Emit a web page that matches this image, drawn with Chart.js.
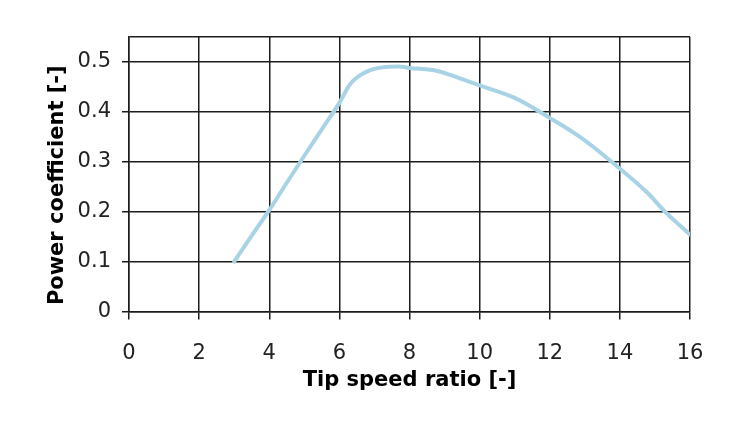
<!DOCTYPE html>
<html><head><meta charset="utf-8">
<script src="https://cdn.jsdelivr.net/npm/chart.js@4"></script>
<style>html,body{margin:0;padding:0;background:#fff}#wrap{width:746px;height:424px}</style>
</head><body><div id="wrap"><canvas id="c" width="746" height="424"></canvas></div>
<script>
const tipSpeedRatio = [3, 3.5, 4, 4.5, 5, 5.5, 6, 6.3, 6.7, 7.3, 7.7, 8, 8.8, 9.4, 10, 11, 12, 12.9, 13.8, 14.8, 15.3, 16];
const powerCoefficient = [0.1, 0.152, 0.203, 0.258, 0.312, 0.365, 0.418, 0.455, 0.478, 0.49, 0.491, 0.488, 0.482, 0.468, 0.453, 0.428, 0.388, 0.348, 0.298, 0.237, 0.199, 0.154];
const xTickValues = [0, 2, 4, 6, 8, 10, 12, 14, 16];
const yTickValues = [0, 0.1, 0.2, 0.3, 0.4, 0.5];
const yTickLabels = ['0', '0.1', '0.2', '0.3', '0.4', '0.5'];
const xTitle = 'Tip speed ratio [-]';
const yTitle = 'Power coefficient [-]   ';

const GRID = '#1c1c1c';
const Y_MAX = 0.55;
const tickFont = {family: '"DejaVu Sans", sans-serif', size: 21, weight: 'normal'};
const titleFont = {family: '"DejaVu Sans", sans-serif', size: 21, weight: 'bold'};

new Chart(document.getElementById('c'), {
  type: 'scatter',
  data: {
    datasets: [{
      data: tipSpeedRatio.map((x, i) => ({x: x, y: powerCoefficient[i]})),
      showLine: true,
      borderColor: '#a8d3e5',
      borderWidth: 4,
      borderCapStyle: 'round',
      pointRadius: 0,
      cubicInterpolationMode: 'monotone',
      fill: false
    }]
  },
  options: {
    responsive: false,
    animation: false,
    devicePixelRatio: 1,
    layout: {padding: {top: 37, right: 56, left: 0, bottom: 0}},
    plugins: {legend: {display: false}, tooltip: {enabled: false}},
    scales: {
      x: {
        type: 'linear', min: 0, max: 16,
        afterBuildTicks: s => { s.ticks = xTickValues.map(v => ({value: v})); },
        afterFit: s => { s.height = 112.5; },
        grid: {color: GRID, lineWidth: 1.5, tickLength: 8, tickColor: GRID},
        border: {display: true, color: GRID, width: 1.5},
        ticks: {font: tickFont, color: '#222', padding: 21, maxRotation: 0,
          callback: v => String(v)},
        title: {display: true, text: xTitle, font: titleFont, color: '#000', padding: {top: 0, bottom: 31}}
      },
      y: {
        type: 'linear', min: 0, max: Y_MAX,
        afterBuildTicks: s => { s.ticks = yTickValues.concat([Y_MAX]).map(v => ({value: v})); },
        afterFit: s => { s.width = 129; },
        grid: {color: GRID, lineWidth: 1.5, tickLength: 7,
          tickColor: c => (c.tick && c.tick.value === Y_MAX) ? 'rgba(0,0,0,0)' : GRID},
        border: {display: true, color: GRID, width: 1.5},
        ticks: {font: tickFont, color: '#222', padding: 11,
          callback: (v) => { const i = yTickValues.indexOf(v); return i >= 0 ? yTickLabels[i] : ''; }},
        title: {display: true, text: yTitle, font: titleFont, color: '#000', padding: {top: 45, bottom: 0}}
      }
    }
  }
});
</script></body></html>
